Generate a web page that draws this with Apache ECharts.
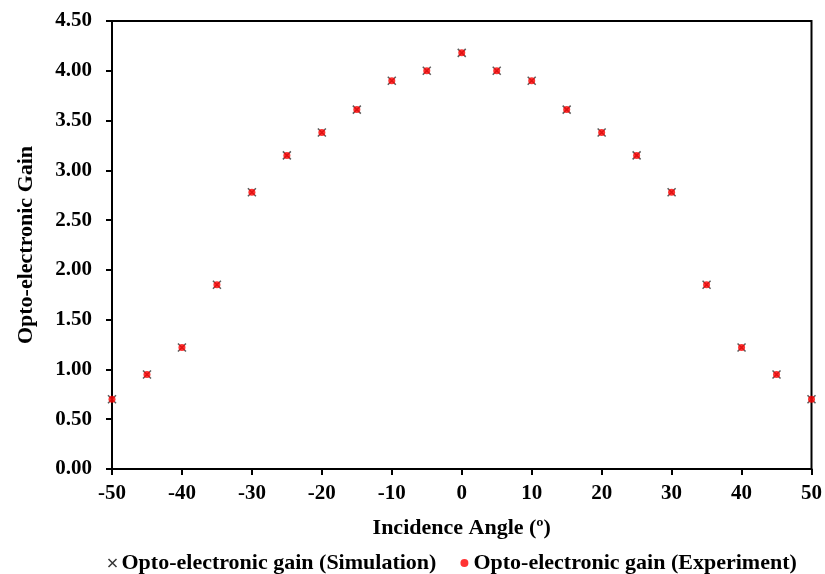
<!DOCTYPE html>
<html><head><meta charset="utf-8">
<script src="https://cdn.jsdelivr.net/npm/echarts@6/dist/echarts.min.js"></script>
<style>html,body{margin:0;padding:0;background:#fff}#c{width:825px;height:574px}</style>
</head><body><div id="c"></div>
<script>
const angles = [-50,-45,-40,-35,-30,-25,-20,-15,-10,-5,0,5,10,15,20,25,30,35,40,45,50];
const simulation = [0.70,0.95,1.22,1.85,2.78,3.15,3.38,3.61,3.90,4.00,4.18,4.00,3.90,3.61,3.38,3.15,2.78,1.85,1.22,0.95,0.70];
const experiment = [0.70,0.95,1.22,1.85,2.78,3.15,3.38,3.61,3.90,4.00,4.18,4.00,3.90,3.61,3.38,3.15,2.78,1.85,1.22,0.95,0.70];
const font = '"Liberation Serif", "Times New Roman", serif';
const chart = echarts.init(document.getElementById('c'));
const xPath = 'path://M0,0L10,10M10,0L0,10';
chart.setOption({
  animation:false,
  grid:{left:112,right:13,top:21,bottom:105,show:true,borderColor:'#000',borderWidth:2},
  xAxis:{type:'value',min:-50,max:50,interval:10,name:'Incidence Angle (º)',nameLocation:'middle',nameGap:48,
    nameTextStyle:{fontFamily:font,fontWeight:'bold',fontSize:22,color:'#000'},
    axisLine:{onZero:false,lineStyle:{color:'#000',width:2}},axisTick:{inside:false,length:6,lineStyle:{color:'#000',width:2}},
    axisLabel:{fontFamily:font,fontWeight:'bold',fontSize:21,color:'#000',margin:14},splitLine:{show:false}},
  yAxis:{type:'value',min:0,max:4.5,interval:0.5,name:'Opto-electronic Gain',nameLocation:'middle',nameGap:75,
    nameTextStyle:{fontFamily:font,fontWeight:'bold',fontSize:22,color:'#000'},
    axisLine:{show:true,onZero:false,lineStyle:{color:'#000',width:2}},axisTick:{show:true,length:6,lineStyle:{color:'#000',width:2}},
    axisLabel:{fontFamily:font,fontWeight:'bold',fontSize:21,color:'#000',margin:20,formatter:v=>v.toFixed(2)},splitLine:{show:false}},
  legend:{top:547,left:101,itemGap:24,itemWidth:8,itemHeight:8,
    textStyle:{fontFamily:font,fontWeight:'bold',fontSize:22,color:'#000'},
    data:[{name:'Opto-electronic gain (Simulation)',icon:xPath,itemStyle:{color:'none',borderColor:'#000',borderWidth:1.5}},
          {name:'Opto-electronic gain (Experiment)',icon:'circle',itemStyle:{color:'#ff0000'}}]},
  series:[
    {name:'Opto-electronic gain (Simulation)',type:'scatter',symbol:xPath,symbolSize:8,
     itemStyle:{color:'none',borderColor:'#333',borderWidth:1.5},
     data:angles.map((a,i)=>[a,simulation[i]]),z:2},
    {name:'Opto-electronic gain (Experiment)',type:'scatter',symbol:'circle',symbolSize:7,
     itemStyle:{color:'#ff0000'},data:angles.map((a,i)=>[a,experiment[i]]),z:3}
  ]
});
</script></body></html>
